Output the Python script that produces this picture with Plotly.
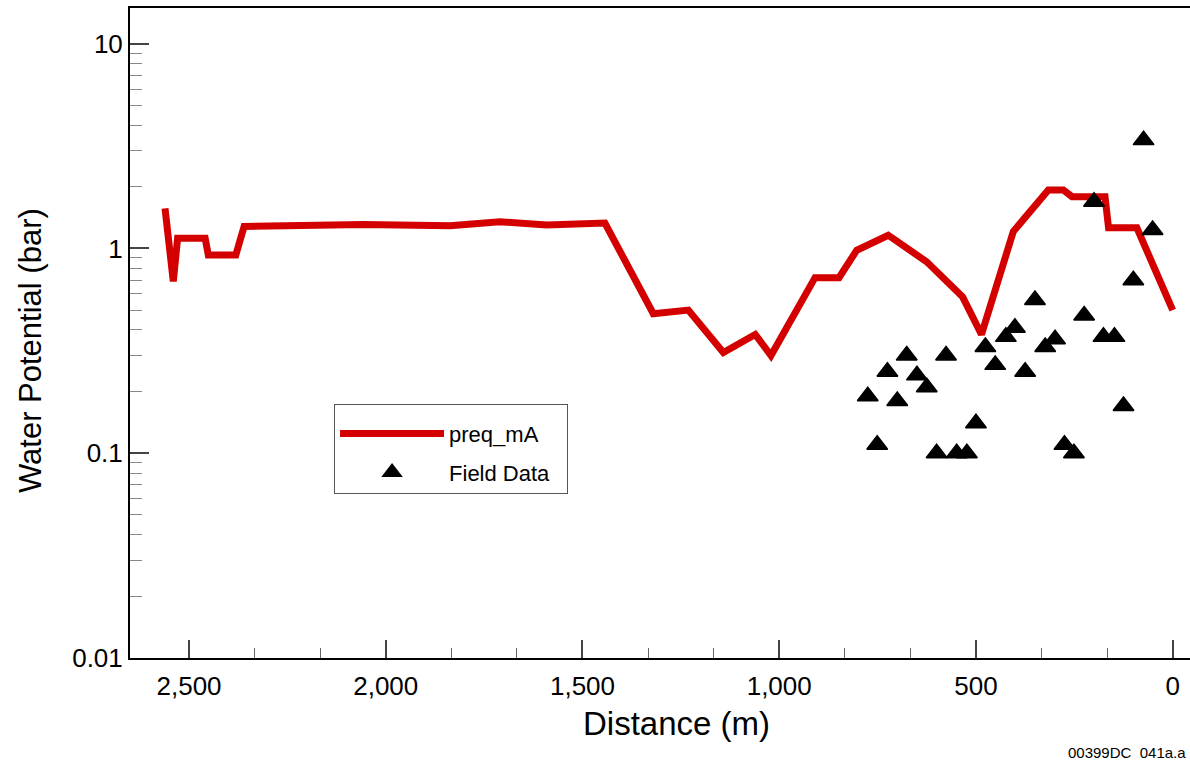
import plotly.graph_objects as go

# ---- data ----
line_dist = [2561, 2540, 2529, 2459, 2451, 2381, 2360, 2226, 2058, 1837, 1710, 1591, 1443,
             1320, 1231, 1142, 1061, 1021, 909, 848, 803, 723, 625, 534, 486, 405, 316,
             278, 256, 172, 163, 91, 0]
line_val = [1.57, 0.69, 1.12, 1.12, 0.93, 0.93, 1.28, 1.29, 1.31, 1.29, 1.35, 1.30, 1.33,
            0.48, 0.50, 0.31, 0.38, 0.30, 0.72, 0.72, 0.98, 1.16, 0.86, 0.58, 0.38, 1.21, 1.93,
            1.93, 1.79, 1.79, 1.26, 1.26, 0.50]

field_dist = [74, 200, 51, 100, 350, 225, 401, 424, 176, 148, 299, 324, 476, 676, 576,
              451, 725, 650, 375, 625, 775, 700, 125, 500, 751, 600, 549, 523, 275, 251]
field_val = [3.38, 1.69, 1.23, 0.70, 0.56, 0.47, 0.41, 0.37, 0.37, 0.37, 0.36, 0.33, 0.33, 0.30, 0.30,
             0.27, 0.25, 0.24, 0.25, 0.21, 0.19, 0.18, 0.17, 0.14, 0.11, 0.10, 0.10, 0.10, 0.11, 0.10]

x_tickvals = [2500, 2000, 1500, 1000, 500, 0]
x_ticktext = ["2,500", "2,000", "1,500", "1,000", "500", "0"]
y_tickvals = [0.01, 0.1, 1, 10]
y_ticktext = ["0.01", "0.1", "1", "10"]

FONT = "Liberation Sans, Arial, sans-serif"

fig = go.Figure()
fig.add_trace(go.Scatter(
    x=line_dist, y=line_val, mode="lines", name="preq_mA", legendgroup="a",
    line=dict(color="#d40000", width=7),
))
fig.add_trace(go.Scatter(
    x=field_dist, y=field_val, mode="markers", name="Field Data\u00a0\u00a0", legendgroup="b",
    marker=dict(symbol="triangle-up", size=18, color="black",
                line=dict(color="black", width=1.5)),
))

fig.update_layout(
    width=1190, height=761,
    margin=dict(l=130, r=0, t=8, b=103),
    paper_bgcolor="white", plot_bgcolor="white",
    font=dict(family=FONT, color="black"),
    showlegend=True,
    legend=dict(
        x=0.1925, y=0.3908, xanchor="left", yanchor="top",
        bordercolor="#555", borderwidth=1, bgcolor="white",
        font=dict(size=22, family=FONT, color="black"),
        itemwidth=104, tracegroupgap=7, traceorder="grouped",
        title=dict(text="\u00a0", font=dict(size=6)),
    ),
    xaxis=dict(
        range=[2650, -44], showgrid=False, zeroline=False,
        showline=True, linecolor="black", linewidth=2, mirror=True,
        tickmode="array", tickvals=x_tickvals, ticktext=x_ticktext,
        ticks="inside", ticklen=18, tickwidth=1.5, tickcolor="#444",
        ticklabelstandoff=4,
        tickfont=dict(size=26, family=FONT, color="black"),
        minor=dict(ticks="inside", ticklen=10, tickwidth=1, tickcolor="#666",
                   dtick=500 / 3, tick0=0, showgrid=False),
    ),
    yaxis=dict(
        type="log", range=[-2, 1.174], showgrid=False, zeroline=False,
        showline=True, linecolor="black", linewidth=2,
        tickmode="array", tickvals=y_tickvals, ticktext=y_ticktext,
        ticks="inside", ticklen=19, tickwidth=1.5, tickcolor="#444",
        tickfont=dict(size=26, family=FONT, color="black"),
        minor=dict(ticks="inside", ticklen=12, tickwidth=1, tickcolor="#888",
                   dtick="D1", showgrid=False),
    ),
    annotations=[
        dict(text="Water Potential (bar)", textangle=-90, xref="paper", yref="paper",
             x=-0.0943, y=0.4723, xanchor="center", yanchor="middle", showarrow=False,
             font=dict(size=31, family=FONT, color="black")),
        dict(text="Distance (m)", xref="paper", yref="paper",
             x=0.516, y=-0.10, xanchor="center", yanchor="middle", showarrow=False,
             font=dict(size=33, family=FONT, color="black")),
        dict(text="00399DC\u00a0 041a.a", xref="paper", yref="paper",
             x=0.998, y=-0.146, xanchor="right", yanchor="middle", showarrow=False,
             font=dict(size=15, family=FONT, color="black")),
    ],
)

fig.write_html("out.html")
